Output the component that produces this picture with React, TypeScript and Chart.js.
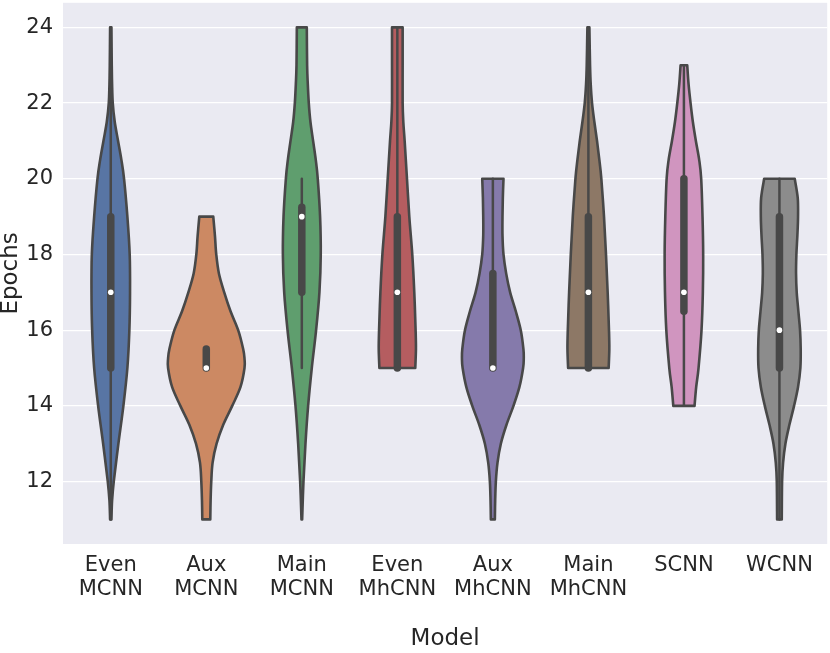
import React, { useEffect, useRef } from "react";
import { Chart, registerables } from "chart.js";

Chart.register(...registerables);

// ---------- data ----------
const categories: string[][] = [
  ["Even", "MCNN"],
  ["Aux", "MCNN"],
  ["Main", "MCNN"],
  ["Even", "MhCNN"],
  ["Aux", "MhCNN"],
  ["Main", "MhCNN"],
  ["SCNN"],
  ["WCNN"],
];

const yTicks = [12, 14, 16, 18, 20, 22, 24];

// kernel density profiles: [epochs, relative density]
const densEvenMCNN = [[11, 2], [11.5, 4], [12, 9], [13, 23], [14, 38], [15, 50], [16, 56], [17, 58], [18, 57], [19, 50], [20, 40], [20.5, 32], [21, 22], [21.5, 12], [22, 6], [22.5, 4], [23, 3], [24, 2]];
const densAuxMCNN = [[11, 12], [11.5, 13], [12, 15], [12.5, 19], [13, 31], [13.5, 51], [14, 78], [14.5, 103], [15, 115], [15.25, 115], [15.5, 111], [16, 96], [16.5, 73], [17, 54], [17.5, 38], [18, 30], [18.5, 26], [19, 21]];
const densMainMCNN = [[11, 1], [12, 5], [13, 11], [14, 19], [15, 30], [16, 43], [17, 53], [18, 57], [19, 55], [20, 48], [20.5, 42], [21, 34], [21.5, 26], [22, 21], [22.5, 18], [23, 16], [24, 15]];
const densEvenMhCNN = [[15, 54], [15.5, 56], [16, 55], [17, 51], [18, 45], [19, 36], [20, 29], [21, 22], [21.5, 18], [22, 16], [23, 16], [24, 16]];
const densAuxMhCNN = [[11, 6], [11.5, 7], [12, 9], [12.5, 14], [13, 24], [13.5, 41], [14, 62], [14.5, 80], [15, 91], [15.25, 93], [15.5, 92], [16, 84], [16.5, 69], [17, 52], [17.5, 40], [18, 32], [18.5, 29], [19, 29], [19.5, 30], [20, 32]];
const densMainMhCNN = [[15, 61], [15.5, 63], [16, 62], [17, 58], [18, 53], [19, 47], [20, 39], [20.5, 33], [21, 26], [21.5, 18], [22, 11], [22.5, 7], [23, 5], [24, 3]];
const densSCNN = [[14, 32], [14.5, 37], [15, 44], [16, 53], [17, 57], [18, 58], [19, 56], [20, 52], [20.5, 46], [21, 36], [21.5, 27], [22, 20], [22.5, 14], [23, 10]];
const densWCNN = [[11, 7], [12, 8], [12.5, 11], [13, 18], [13.5, 30], [14, 44], [14.5, 56], [15, 63], [15.5, 64], [16, 62], [16.5, 57], [17, 52], [17.5, 50], [18, 51], [18.5, 54], [19, 56], [19.5, 55], [20, 46]];

const densities = [densEvenMCNN, densAuxMCNN, densMainMCNN, densEvenMhCNN, densAuxMhCNN, densMainMhCNN, densSCNN, densWCNN];

const medians = [17, 15, 19, 17, 15, 17, 17, 16];
const q1 = [15, 15, 17, 15, 15, 15, 16.5, 15];
const q3 = [19, 15.5, 19.25, 19, 17.5, 19, 20, 19];
const whiskerLow = [11, 15, 15, 15, 15, 15, 14, 11];
const whiskerHigh = [24, 15.5, 20, 24, 20, 24, 23, 20];

const colors = ["#5875a4", "#cc8963", "#5f9e6e", "#b55d60", "#857aab", "#8d7866", "#d095bf", "#8c8c8c"];

// ---------- styling ----------
const LINE = "#484848";
const TEXT = "#262626";
const FONT = "DejaVu Sans";
const VIOLIN_WIDTH = 0.8;

function curveThrough(ctx: CanvasRenderingContext2D, pts: number[][]) {
  for (let i = 0; i < pts.length - 1; i++) {
    const p0 = pts[i - 1] || pts[i];
    const p1 = pts[i];
    const p2 = pts[i + 1];
    const p3 = pts[i + 2] || pts[i + 1];
    const c1x = p1[0] + (p2[0] - p0[0]) / 6;
    const c1y = p1[1] + (p2[1] - p0[1]) / 6;
    const c2x = p2[0] - (p3[0] - p1[0]) / 6;
    const c2y = p2[1] - (p3[1] - p1[1]) / 6;
    ctx.bezierCurveTo(c1x, c1y, c2x, c2y, p2[0], p2[1]);
  }
}

const violinPlugin = {
  id: "violins",
  beforeDraw(chart: any) {
    const { ctx, chartArea: a } = chart;
    ctx.save();
    ctx.fillStyle = "#EAEAF2";
    ctx.fillRect(a.left, a.top, a.right - a.left, a.bottom - a.top);
    ctx.restore();
  },
  beforeDatasetsDraw(chart: any) {
    const { ctx } = chart;
    const xs = chart.scales.x;
    const ys = chart.scales.y;
    const catW = xs.getPixelForValue(1) - xs.getPixelForValue(0);
    let maxD = 0;
    densities.forEach((d) => d.forEach((p) => (maxD = Math.max(maxD, p[1]))));
    const k = ((VIOLIN_WIDTH / 2) * catW) / maxD;
    ctx.save();
    densities.forEach((dens, i) => {
      const cx = xs.getPixelForValue(i);
      const right = dens.map((p) => [cx + p[1] * k, ys.getPixelForValue(p[0])]);
      const left = dens.map((p) => [cx - p[1] * k, ys.getPixelForValue(p[0])]).reverse();
      ctx.beginPath();
      ctx.moveTo(right[0][0], right[0][1]);
      curveThrough(ctx, right);
      ctx.lineTo(left[0][0], left[0][1]);
      curveThrough(ctx, left);
      ctx.closePath();
      ctx.fillStyle = colors[i];
      ctx.fill();
      ctx.lineWidth = 2.6;
      ctx.lineJoin = "round";
      ctx.strokeStyle = LINE;
      ctx.stroke();

      // whiskers
      ctx.beginPath();
      ctx.lineCap = "round";
      ctx.lineWidth = 2.5;
      ctx.moveTo(cx, ys.getPixelForValue(whiskerLow[i]));
      ctx.lineTo(cx, ys.getPixelForValue(whiskerHigh[i]));
      ctx.stroke();
      // box
      ctx.beginPath();
      ctx.lineWidth = 7.5;
      ctx.moveTo(cx, ys.getPixelForValue(q1[i]));
      ctx.lineTo(cx, ys.getPixelForValue(q3[i]));
      ctx.stroke();
    });
    ctx.restore();
  },
};

export default function App() {
  const ref = useRef<HTMLCanvasElement | null>(null);
  useEffect(() => {
    document.body.style.margin = "0";
    const canvas = ref.current;
    if (!canvas) return;
    const chart = new Chart(canvas, {
      type: "line",
      data: {
        labels: categories as any,
        datasets: [
          {
            data: medians,
            showLine: false,
            pointRadius: 2.8,
            pointHoverRadius: 2.8,
            pointBackgroundColor: "#ffffff",
            pointBorderWidth: 0,
            borderColor: "#ffffff",
          },
        ],
      },
      options: {
        animation: false,
        responsive: false,
        devicePixelRatio: 1,
        layout: { padding: 0 },
        plugins: {
          legend: { display: false },
          tooltip: { enabled: false },
        },
        events: [],
        scales: {
          x: {
            type: "category",
            offset: true,
            grid: { display: false, drawTicks: false },
            border: { display: false },
            ticks: {
              color: TEXT,
              padding: 10,
              maxRotation: 0,
              autoSkip: false,
              font: { family: FONT, size: 21, lineHeight: 1.12 },
            },
            title: {
              display: true,
              text: "Model",
              color: TEXT,
              padding: { top: 0, bottom: 0 },
              font: { family: FONT, size: 23, lineHeight: 1.2 },
            },
            afterFit(scale: any) {
              scale.height = 109;
              scale.paddingLeft = 0;
              scale.paddingRight = 0;
            },
          },
          y: {
            type: "linear",
            min: 10.35,
            max: 24.65,
            grid: { color: "#ffffff", lineWidth: 1.3, drawTicks: false },
            border: { display: false },
            ticks: {
              color: TEXT,
              padding: 10,
              font: { family: FONT, size: 21 },
            },
            afterBuildTicks(scale: any) {
              scale.ticks = yTicks.map((v) => ({ value: v }));
            },
            title: {
              display: true,
              text: "Epochs",
              color: TEXT,
              padding: { top: 0, bottom: 0 },
              font: { family: FONT, size: 23, lineHeight: 0.95 },
            },
            afterFit(scale: any) {
              scale.width = 63;
              scale.paddingTop = 0;
              scale.paddingBottom = 0;
            },
          },
        },
      },
      plugins: [violinPlugin],
    } as any);
    return () => chart.destroy();
  }, []);
  return (
    <div style={{ position: "absolute", left: 0, top: 0, width: 830, height: 653 }}>
      <canvas ref={ref} width={830} height={653} />
    </div>
  );
}
